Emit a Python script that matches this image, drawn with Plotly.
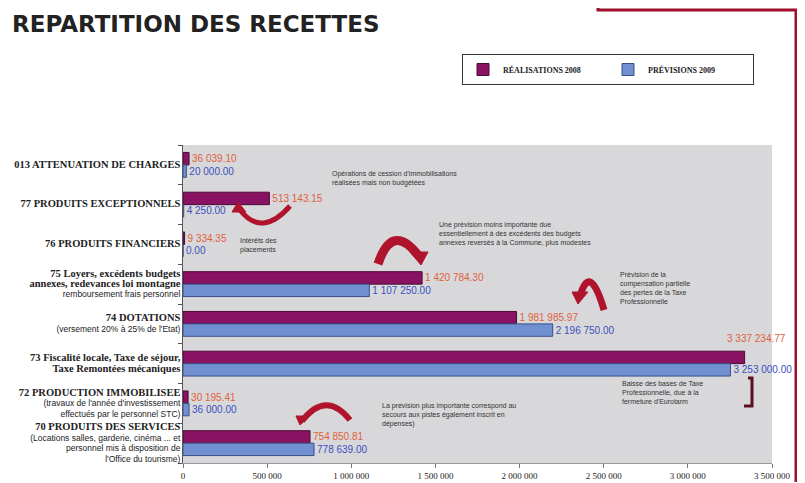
import plotly.graph_objects as go

categories = ["ATTENUATION", "EXCEPTIONNELS", "FINANCIERS", "LOYERS", "DOTATIONS",
              "FISCALITE", "PRODUCTION", "SERVICES"]


def main(t):
    return f"<span style='font-size:10.5px'><b>{t}</b></span>"


def sub(t):
    return f"<span style='font-size:8.5px;font-family:Liberation Sans'>{t}</span>"


cat_labels = [
    main("013 ATTENUATION DE CHARGES"),
    main("77 PRODUITS EXCEPTIONNELS"),
    main("76 PRODUITS FINANCIERS"),
    main("75 Loyers, excédents budgets") + "<br>" + main("annexes, redevances loi montagne") + "<br>" + sub("remboursement frais personnel"),
    main("74 DOTATIONS") + "<br>" + sub("(versement 20% à 25% de l'Etat)"),
    main("73 Fiscalité locale, Taxe de séjour,") + "<br>" + main("Taxe Remontées mécaniques"),
    main("72 PRODUCTION IMMOBILISEE") + "<br>" + sub("(travaux de l'année d'investissement") + "<br>" + sub("effectués par le personnel STC)"),
    main("70 PRODUITS DES SERVICES") + "<br>" + sub("(Locations salles, garderie, cinéma ... et") + "<br>" + sub("personnel mis à disposition de") + "<br>" + sub("l'Office du tourisme)"),
]
realisations_2008 = [36039.10, 513143.15, 9334.35, 1420784.30, 1981985.97,
                     3337234.77, 30195.41, 754850.81]
previsions_2009 = [20000.00, 4250.00, 0.00, 1107250.00, 2196750.00,
                   3253000.00, 36000.00, 778639.00]
x_ticks = [0, 500000, 1000000, 1500000, 2000000, 2500000, 3000000, 3500000]

# the page body adds an 8px offset; work in reference pixel coordinates
OFF = 8
W, H = 805 - OFF, 483 - OFF
L, R, T, B = 183 - OFF, 33, 145 - OFF, 20
PW, PH = W - L - R, H - T - B


def px(x):
    return (x - OFF - L) / PW


def py(y):
    return (H - B - (y - OFF)) / PH


real_col, prev_col = "#8a1262", "#7190d2"
real_txt, prev_txt = "#e0603c", "#3a4fc0"

# label of the longest bar sits above it (as in the reference)
real_pos = ["outside"] * len(realisations_2008)
imax = realisations_2008.index(max(realisations_2008))
real_pos[imax] = "none"

fig = go.Figure()
fig.add_trace(go.Bar(
    y=categories, x=realisations_2008, orientation="h",
    name="<b>RÉALISATIONS 2008</b>",
    marker=dict(color=real_col, line=dict(color="#4a0a35", width=1)),
    texttemplate="%{x:,.2f}", textposition=real_pos,
    outsidetextfont=dict(color=real_txt, size=10, family="Liberation Sans"),
    cliponaxis=False,
))
fig.add_trace(go.Bar(
    y=categories, x=previsions_2009, orientation="h",
    name="<b>PRÉVISIONS 2009</b>",
    marker=dict(color=prev_col, line=dict(color="#3a4f88", width=1)),
    texttemplate="%{x:,.2f}", textposition="outside",
    outsidetextfont=dict(color=prev_txt, size=10, family="Liberation Sans"),
    cliponaxis=False,
))

annotations = [dict(
    x=realisations_2008[imax], y=categories[imax], xref="x", yref="y",
    text=f"{realisations_2008[imax]:,.2f}".replace(",", " "),
    showarrow=False, xanchor="left", yanchor="middle", xshift=-20, yshift=25,
    font=dict(color=real_txt, size=10, family="Liberation Sans"))]

# chart title
annotations.append(dict(
    x=px(10), y=py(9), xref="paper", yref="paper",
    text="<b>REPARTITION DES RECETTES</b>", showarrow=False,
    xanchor="left", yanchor="top",
    font=dict(family="DejaVu Sans", size=23, color="#222222")))

note_font = dict(size=7, family="Liberation Sans", color="#333333")
notes = [
    (330, 178, "Opérations de cession d'immobilisations<br>réalisées mais non budgétées"),
    (238, 245, "Intérêts des<br>placements"),
    (437, 234, "Une prévision moins importante due<br>essentiellement à des excédents des budgets<br>annexes reversés à la Commune, plus modestes"),
    (618, 288, "Prévision de la<br>compensation partielle<br>des pertes de la Taxe<br>Professionnelle"),
    (620, 392, "Baisse des bases de Taxe<br>Professionnelle, due à la<br>fermeture d'Eurotarm"),
    (380, 415, "La prévision plus importante correspond au<br>secours aux pistes également inscrit en<br>dépenses)"),
]
for x, y, t in notes:
    annotations.append(dict(x=px(x), y=py(y), xref="paper", yref="paper", text=t,
                            showarrow=False, xanchor="left", yanchor="middle",
                            align="left", font=note_font))

arrow_col = "#b0142c"
shapes = []


def arc(x0, y0, cx, cy, x1, y1, w):
    shapes.append(dict(type="path", xref="paper", yref="paper",
                       path=f"M {px(x0)},{py(y0)} Q {px(cx)},{py(cy)} {px(x1)},{py(y1)}",
                       line=dict(color=arrow_col, width=w)))


def head(pts):
    d = "M " + " L ".join(f"{px(a)},{py(b)}" for a, b in pts) + " Z"
    shapes.append(dict(type="path", xref="paper", yref="paper", path=d,
                       fillcolor=arrow_col, line=dict(color=arrow_col, width=1)))


# curved arrows
arc(290, 206, 262, 238, 240, 210, 5)
head([(232, 212), (246, 212), (238, 202)])
arc(378, 264, 392, 222, 418, 255, 9)
head([(410, 252), (428, 252), (421, 265)])
arc(604, 310, 590, 262, 580, 296, 7)
head([(572, 292), (588, 292), (578, 304)])
arc(302, 421, 326, 390, 350, 420, 6)
head([(296, 416), (310, 416), (300, 425)])

# bracket
shapes.append(dict(type="path", xref="paper", yref="paper",
                   path=f"M {px(748)},{py(378)} L {px(752)},{py(378)} L {px(752)},{py(406)} L {px(744)},{py(406)}",
                   line=dict(color="#5a1020", width=3)))

# page frame in red
frame_col = "#a0102c"
shapes.append(dict(type="path", xref="paper", yref="paper",
                   path=f"M {px(598)},{py(8)} L {px(598)},{py(10)} L {px(796)},{py(10)} L {px(796)},{py(482)}",
                   line=dict(color=frame_col, width=3)))

fig.update_layout(
    width=W, height=H,
    margin=dict(l=L, r=R, t=T, b=B, autoexpand=False),
    paper_bgcolor="white", plot_bgcolor="#d8d8da",
    separators=". ",
    barmode="group", bargap=0.375, bargroupgap=0,
    legend=dict(orientation="h", x=px(462), y=py(54), xanchor="left", yanchor="top",
                bordercolor="#333333", borderwidth=1, bgcolor="white",
                font=dict(family="Liberation Serif", size=8, color="#222222"),
                entrywidth=100, entrywidthmode="pixels", traceorder="normal",
                itemwidth=30, tracegroupgap=0),
    xaxis=dict(range=[0, 3500000], tickvals=x_ticks, tickformat=",d",
               showgrid=False, zeroline=False, ticks="outside", ticklen=4,
               tickcolor="#777777", showline=True, linecolor="#999999",
               tickfont=dict(family="Liberation Serif", size=9, color="#222222")),
    yaxis=dict(tickmode="array", tickvals=categories, ticktext=cat_labels,
               autorange="reversed", showgrid=False, ticks="outside",
               tickson="boundaries", ticklen=4, tickcolor="#555555",
               showline=True, linecolor="#555555", automargin=False,
               tickfont=dict(family="Liberation Serif", size=8, color="#222222")),
    annotations=annotations,
    shapes=shapes,
    showlegend=True,
)

fig.write_html("out.html")
